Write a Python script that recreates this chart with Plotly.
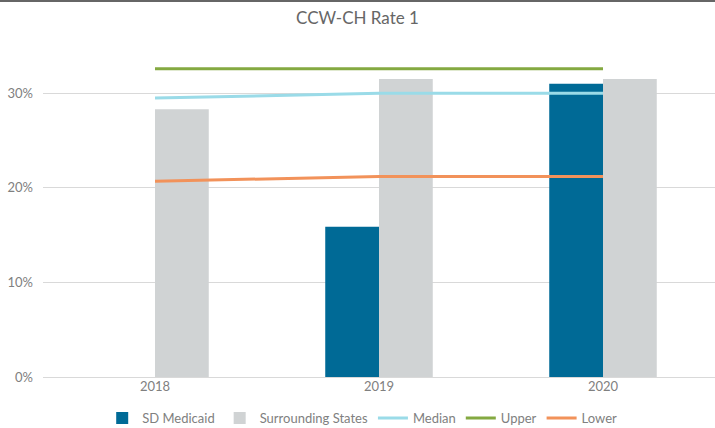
import plotly.graph_objects as go

years = ["2018", "2019", "2020"]
sd_medicaid = [None, 0.159, 0.310]
surrounding = [0.283, 0.315, 0.315]
median = [0.295, 0.300, 0.300]
upper = [0.326, 0.326, 0.326]
lower = [0.207, 0.212, 0.212]
y_ticks = [0, 0.1, 0.2, 0.3]
y_tick_labels = ["0%", "10%", "20%", "30%"]

FONT = "Lato, 'Open Sans', sans-serif"
TXT = "#808080"

fig = go.Figure()
fig.add_trace(go.Bar(name="SD Medicaid", x=years, y=sd_medicaid,
                     marker=dict(color="#006A96", line=dict(width=0))))
fig.add_trace(go.Bar(name="Surrounding States", x=years, y=surrounding,
                     marker=dict(color="#D0D3D4", line=dict(width=0))))
fig.add_trace(go.Scatter(name="Median", x=years, y=median, mode="lines",
                         line=dict(color="#9ADBE8", width=3)))
fig.add_trace(go.Scatter(name="Upper", x=years, y=upper, mode="lines",
                         line=dict(color="#84A941", width=3)))
fig.add_trace(go.Scatter(name="Lower", x=years, y=lower, mode="lines",
                         line=dict(color="#F2925A", width=3)))

plot_h = 428 - 46 - 51
fig.update_layout(
    template="none",
    width=715, height=428,
    margin=dict(l=43, r=0, t=46, b=51, pad=0, autoexpand=False),
    paper_bgcolor="white", plot_bgcolor="white",
    barmode="group", bargap=0.52, bargroupgap=0,
    font=dict(family=FONT, color=TXT, size=13),
    title=dict(text="CCW-CH Rate 1", x=0.5, xref="container", xanchor="center",
               y=1 - 18 / 428, yref="container", yanchor="middle",
               font=dict(size=17, color="#666666", family=FONT)),
    xaxis=dict(type="category", showgrid=False, showline=False, ticks="",
               automargin=False, tickfont=dict(size=13, color=TXT)),
    yaxis=dict(range=[0, 0.35], tickvals=y_ticks, ticktext=y_tick_labels,
               showgrid=True, gridcolor="#D9D9D9", gridwidth=1,
               zeroline=True, zerolinecolor="#D9D9D9", zerolinewidth=1,
               showline=False, ticks="", ticklabelstandoff=9, automargin=False,
               tickfont=dict(size=13, color=TXT)),
    legend=dict(orientation="h", x=0.475, xref="paper", xanchor="center",
                y=-(418 - 377) / plot_h, yref="paper", yanchor="middle",
                font=dict(size=13, color=TXT), tracegroupgap=0,
                traceorder="normal", bgcolor="rgba(0,0,0,0)"),
    showlegend=True,
    shapes=[dict(type="rect", xref="paper", yref="paper",
                 x0=-0.2, x1=1.2, y0=1 + 44 / plot_h, y1=1 + 50 / plot_h,
                 fillcolor="#666666", line=dict(width=0), layer="above")],
)

fig.write_html("out.html", config={"displayModeBar": False},
               post_script="document.body.style.margin='0';document.body.style.padding='0';")
